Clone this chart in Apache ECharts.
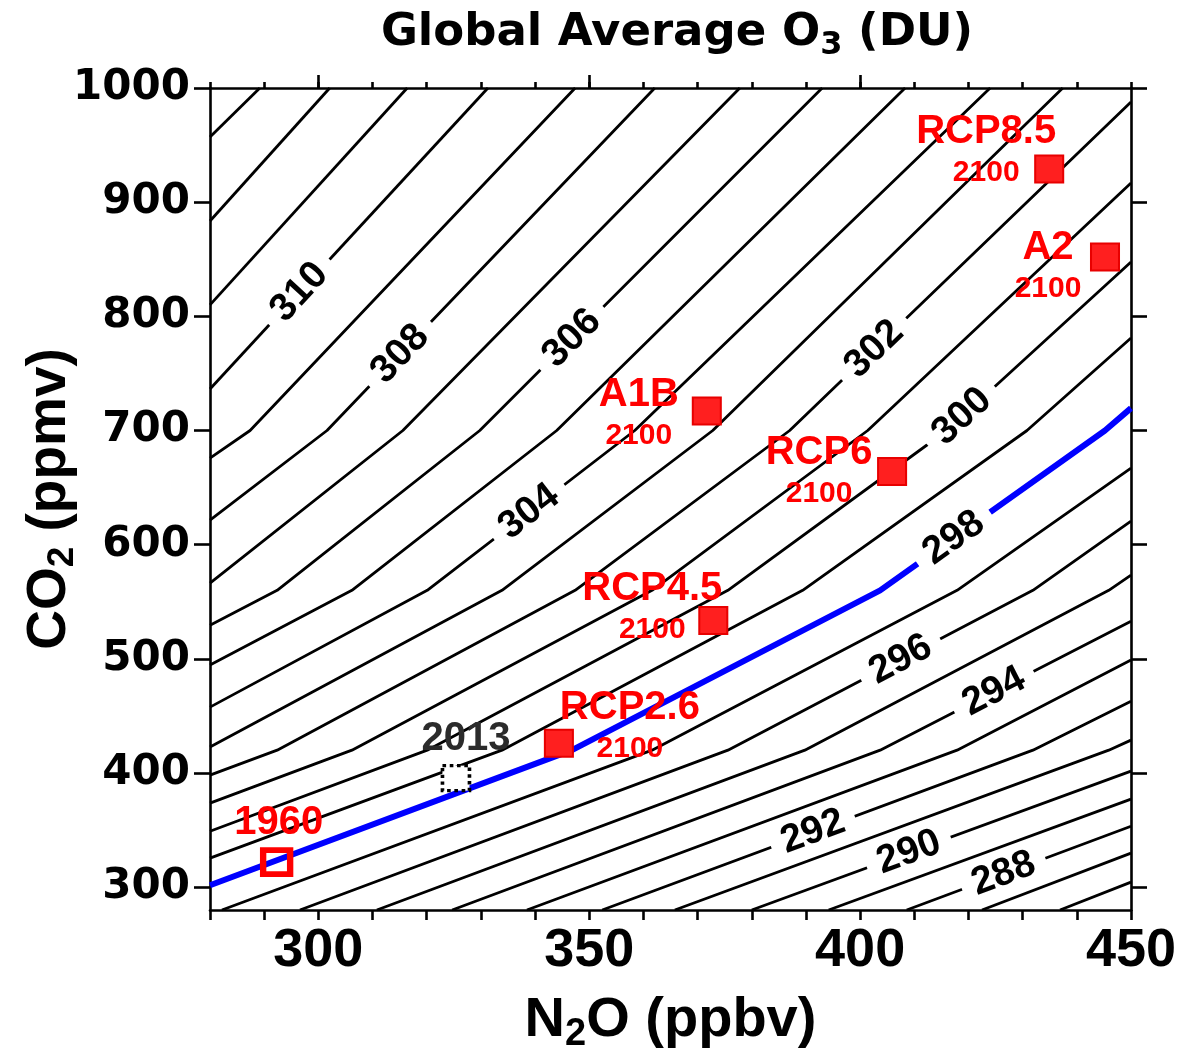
<!DOCTYPE html>
<html>
<head>
<meta charset="utf-8">
<script src="https://cdn.jsdelivr.net/npm/echarts@6/dist/echarts.min.js"></script>
<style>
html,body{margin:0;padding:0;background:#fff}
#main{width:1180px;height:1055px}
</style>
</head>
<body>
<div id="main"></div>
<script>
//-----------------------------------------------------------------------------------------
// data (N2O ppbv, CO2 ppmv)
//-----------------------------------------------------------------------------------------
// contour levels of global average O3 (DU) and the vertices of each contour line
var contourLevels = [313, 312, 311, 310, 309, 308, 307, 306, 305, 304, 303, 302, 301, 300,
                     299, 298, 297, 296, 295, 294, 293, 292, 291, 290, 289, 288, 287, 286];
var contourPaths = [
    [[280, 957.0], [289.2, 1000]],
    [[280, 883.5], [302.1, 1000]],
    [[280, 810.0], [316.4, 1000]],
    [[280, 736.3], [331.3, 1000]],
    [[280, 675.8], [287.4, 700], [347.4, 1000]],
    [[280, 621.5], [301.6, 700], [362.1, 1000]],
    [[280, 566.3], [315.6, 700], [377.8, 1000]],
    [[280, 529.5], [292.4, 560], [329.8, 700], [393.0, 1000]],
    [[280, 494.5], [306.2, 560], [344.0, 700], [408.3, 1000]],
    [[280, 457.7], [320.1, 560], [358.4, 700], [424.0, 1000]],
    [[280, 422.7], [333.9, 560], [372.8, 700], [437.4, 1000]],
    [[280, 398.1], [292.4, 420], [347.4, 560], [387.0, 700], [450, 987.7]],
    [[280, 373.6], [306.2, 420], [361.6, 560], [401.4, 700], [450, 916.8]],
    [[280, 349.0], [320.1, 420], [375.6, 560], [416.0, 700], [450, 847.6]],
    [[280, 325.4], [333.9, 420], [389.4, 560], [430.8, 700], [450, 781.0]],
    [[280, 301.7], [346.8, 420], [403.7, 560], [445.2, 700], [450, 719.6]],
    [[282.2, 280], [361.6, 420], [417.9, 560], [450, 667.1]],
    [[296.6, 280], [375.6, 420], [431.9, 560], [450, 620.6]],
    [[310.8, 280], [389.8, 420], [445.9, 560], [450, 573.3]],
    [[324.7, 280], [403.7, 420], [450, 533.0]],
    [[338.5, 280], [417.9, 420], [450, 498.9]],
    [[352.4, 280], [431.9, 420], [450, 462.9]],
    [[365.8, 280], [445.9, 420], [450, 428.8]],
    [[380.0, 280], [450, 401.6]],
    [[394.2, 280], [450, 377.1]],
    [[408.6, 280], [450, 353.4]],
    [[422.5, 280], [450, 329.8]],
    [[436.9, 280], [450, 304.4]]
];
var highlightLevel = 298;

// labelled contours and where the label sits (N2O)
var labelLevels = [310, 308, 306, 304, 302, 300, 298, 296, 294, 292, 290, 288];
var labelN2O    = [296.5, 315.1, 346.8, 338.9, 402.6, 418.8, 417.3, 407.5, 424.7, 391.3, 409.0, 426.5];

// year 2100 scenarios
var scenarioNames = ['RCP8.5', 'A2', 'A1B', 'RCP6', 'RCP4.5', 'RCP2.6'];
var scenarioN2O   = [434.9, 445.2, 371.7, 405.9, 372.9, 344.4];
var scenarioCO2   = [929.0, 851.9, 717.0, 664.0, 533.5, 426.1];

// observed
var obsYears = ['1960', '2013'];
var obsN2O   = [292.3, 325.4];
var obsCO2   = [322.0, 395.5];

var xTicks = [300, 350, 400, 450];
var yTicks = [300, 400, 500, 600, 700, 800, 900, 1000];

//-----------------------------------------------------------------------------------------
// styles
//-----------------------------------------------------------------------------------------
var RED = '#ff0000';
var scenarioLabelOffset = [[-63, -18], [-57, 10], [-68, 3], [-73, 0], [-61, -13], [71, -16]];
var obsLabelOffset = [[2, -39], [10, -39]];

var chart = echarts.init(document.getElementById('main'));

function interpCO2(path, n) {
    for (var i = 0; i < path.length - 1; i++) {
        var a = path[i], b = path[i + 1];
        if (n >= a[0] && n <= b[0]) {
            return [i, a[1] + (b[1] - a[1]) * (n - a[0]) / (b[0] - a[0])];
        }
    }
    return [path.length - 2, path[path.length - 1][1]];
}

var lineSeries = [];
for (var i = 0; i < contourLevels.length; i++) {
    var hl = contourLevels[i] === highlightLevel;
    lineSeries.push({
        type: 'line',
        name: 'c' + contourLevels[i],
        data: contourPaths[i],
        showSymbol: false,
        symbol: 'none',
        clip: true,
        silent: true,
        z: hl ? 3 : 2,
        lineStyle: {color: hl ? '#0000ff' : '#000', width: hl ? 6 : 2.8}
    });
}

function contourLabelData(withAngle) {
    var out = [];
    for (var i = 0; i < labelLevels.length; i++) {
        var path = contourPaths[contourLevels.indexOf(labelLevels[i])];
        var r = interpCO2(path, labelN2O[i]);
        var item = {value: [labelN2O[i], r[1], labelLevels[i]]};
        if (withAngle) {
            var p1 = chart.convertToPixel({gridIndex: 0}, path[r[0]]);
            var p2 = chart.convertToPixel({gridIndex: 0}, path[r[0] + 1]);
            var ang = Math.atan2(p1[1] - p2[1], p2[0] - p1[0]) * 180 / Math.PI;
            item.label = {rotate: ang};
        }
        out.push(item);
    }
    return out;
}

var scenarioData = [];
for (var i = 0; i < scenarioNames.length; i++) {
    scenarioData.push({
        value: [scenarioN2O[i], scenarioCO2[i]],
        name: scenarioNames[i],
        label: {offset: scenarioLabelOffset[i]}
    });
}

var axisLineStyle = {color: '#000', width: 2.6};

var option = {
    animation: false,
    backgroundColor: '#fff',
    title: {
        text: '{a|Global Average O}{s|3}{a| (DU)}',
        left: 672,
        top: 2,
        textAlign: 'center',
        textStyle: {
            rich: {
                a: {fontFamily: 'DejaVu Sans', fontWeight: 'bold', fontSize: 45, color: '#000', lineHeight: 52},
                s: {fontFamily: 'DejaVu Sans', fontWeight: 'bold', fontSize: 32, color: '#000', lineHeight: 40, padding: [26, 0, 0, 0]}
            }
        }
    },
    grid: {left: 210, right: 49, top: 88, bottom: 145, containLabel: false, outerBoundsMode: 'none'},
    xAxis: [{
        type: 'value', min: 280, max: 450, interval: 10, position: 'bottom',
        axisLine: {show: true, lineStyle: axisLineStyle},
        axisTick: {show: true, length: 10, lineStyle: axisLineStyle},
        axisLabel: {
            customValues: xTicks, margin: 14, color: '#000',
            fontFamily: 'Liberation Sans', fontWeight: 'bold', fontSize: 54
        },
        splitLine: {show: false},
        name: '{a|N}{s|2}{a|O (ppbv)}',
        nameLocation: 'middle',
        nameGap: 80,
        nameMoveOverlap: false,
        nameTextStyle: {
            rich: {
                a: {fontFamily: 'Liberation Sans', fontWeight: 'bold', fontSize: 56, color: '#000', lineHeight: 62},
                s: {fontFamily: 'Liberation Sans', fontWeight: 'bold', fontSize: 38, color: '#000', lineHeight: 46, padding: [28, 0, 0, 0]}
            }
        }
    }, {
        type: 'value', min: 280, max: 450, interval: 10, position: 'top',
        axisLine: {show: true, lineStyle: axisLineStyle},
        axisTick: {show: true, length: 6, lineStyle: axisLineStyle},
        axisLabel: {show: false},
        splitLine: {show: false}
    }, {
        type: 'value', min: 280, max: 450, position: 'top',
        axisLine: {show: false},
        axisTick: {show: true, length: 13, customValues: [300, 350, 400], lineStyle: axisLineStyle},
        axisLabel: {show: false},
        splitLine: {show: false}
    }],
    yAxis: [{
        type: 'value', min: 280, max: 1000, position: 'left',
        axisLine: {show: true, lineStyle: axisLineStyle},
        axisTick: {show: true, length: 16, customValues: yTicks, lineStyle: axisLineStyle},
        axisLabel: {
            customValues: yTicks, margin: 20, color: '#000',
            formatter: function (v) { return String(v); },
            fontFamily: 'DejaVu Sans', fontWeight: 'bold', fontSize: 42
        },
        splitLine: {show: false},
        name: '{a|CO}{s|2}{a| (ppmv)}',
        nameLocation: 'middle',
        nameRotate: 90,
        nameGap: 130,
        nameMoveOverlap: false,
        nameTextStyle: {
            rich: {
                a: {fontFamily: 'Liberation Sans', fontWeight: 'bold', fontSize: 55, color: '#000', lineHeight: 60},
                s: {fontFamily: 'Liberation Sans', fontWeight: 'bold', fontSize: 37, color: '#000', lineHeight: 44, padding: [26, 0, 0, 0]}
            }
        }
    }, {
        type: 'value', min: 280, max: 1000, position: 'right',
        axisLine: {show: true, lineStyle: axisLineStyle},
        axisTick: {show: true, length: 16, customValues: yTicks, lineStyle: axisLineStyle},
        axisLabel: {show: false},
        splitLine: {show: false}
    }],
    series: lineSeries.concat([{
        type: 'scatter',
        id: 'contourLabels',
        data: contourLabelData(false),
        symbolSize: 1,
        itemStyle: {color: 'rgba(0,0,0,0)', opacity: 1},
        silent: true,
        z: 4,
        label: {
            show: true,
            position: 'inside',
            formatter: function (p) { return String(p.value[2]); },
            fontFamily: 'Liberation Sans',
            fontWeight: 'bold',
            fontSize: 39,
            color: '#000',
            backgroundColor: '#fff',
            lineHeight: 24,
            padding: [0, 12]
        }
    }, {
        type: 'scatter',
        data: scenarioData,
        symbol: 'rect',
        symbolSize: [28, 27],
        itemStyle: {color: '#ff1f1f', borderColor: '#e80000', borderWidth: 2, opacity: 1},
        z: 5,
        label: {
            show: true,
            position: 'inside',
            align: 'center',
            formatter: function (p) { return '{n|' + p.name + '}\n{y|2100}'; },
            rich: {
                n: {fontFamily: 'Liberation Sans', fontWeight: 'bold', fontSize: 40, color: RED, lineHeight: 44, align: 'center'},
                y: {fontFamily: 'Liberation Sans', fontWeight: 'bold', fontSize: 30, color: RED, lineHeight: 38, align: 'center'}
            }
        }
    }, {
        type: 'scatter',
        data: [{value: [obsN2O[0], obsCO2[0]], name: obsYears[0], label: {offset: obsLabelOffset[0]}}],
        symbol: 'rect',
        symbolSize: [27, 24],
        itemStyle: {color: 'rgba(0,0,0,0)', borderColor: RED, borderWidth: 6, opacity: 1},
        z: 5,
        label: {
            show: true, position: 'inside', formatter: '{b}',
            fontFamily: 'Liberation Sans', fontWeight: 'bold', fontSize: 40, color: RED
        }
    }, {
        type: 'scatter',
        data: [{value: [obsN2O[1], obsCO2[1]], name: obsYears[1], label: {offset: obsLabelOffset[1]}}],
        symbol: 'rect',
        symbolSize: [27, 25],
        itemStyle: {color: '#fff', borderColor: '#000', borderWidth: 3.5, borderType: 'dotted', opacity: 1},
        z: 5,
        label: {
            show: true, position: 'inside', formatter: '{b}',
            fontFamily: 'Liberation Sans', fontWeight: 'bold', fontSize: 40, color: '#2b2b2b'
        }
    }])
};

chart.setOption(option);
// rotate contour labels along their lines
chart.setOption({series: [{id: 'contourLabels', data: contourLabelData(true)}]});
</script>
</body>
</html>
